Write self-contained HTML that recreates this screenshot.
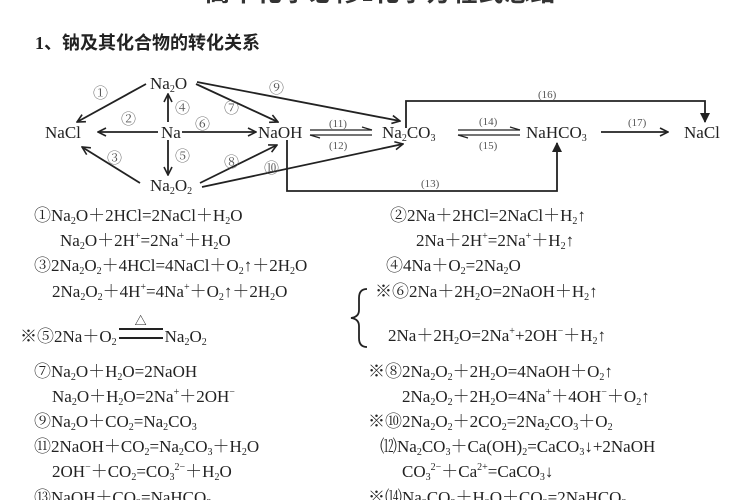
<!DOCTYPE html>
<html><head><meta charset="utf-8">
<style>
body{margin:0;background:#fff;}
#w{position:relative;width:750px;height:500px;overflow:hidden;background:#fff;font-family:"Liberation Serif","Noto Serif CJK SC",serif;color:#222;}
.t{position:absolute;font-size:17px;white-space:nowrap;line-height:1;}
sub{font-size:10px;vertical-align:-3px;line-height:0;}
sup{font-size:10px;vertical-align:7px;line-height:0;}
.h{position:absolute;font-family:"Liberation Serif","Noto Sans CJK SC",sans-serif;font-weight:bold;white-space:nowrap;}
</style></head><body><div id="w">
<div class="h" style="left:205px;top:-27px;font-size:25px;letter-spacing:1px;color:#333">高中化学必修1化学方程式总结</div>
<div class="h" style="left:35px;top:29px;font-size:18px;">1、钠及其化合物的转化关系</div>
<svg width="750" height="210" style="position:absolute;left:0;top:0" font-family="Liberation Serif, Noto Serif CJK SC, serif" font-size="17" fill="#222">
<defs>
<marker id="o" markerWidth="10" markerHeight="10" refX="9" refY="5" orient="auto" markerUnits="userSpaceOnUse"><path d="M1,1 L9,5 L1,9" fill="none" stroke="#222" stroke-width="1.6"/></marker>
<marker id="f" markerWidth="10" markerHeight="10" refX="9" refY="5" orient="auto" markerUnits="userSpaceOnUse"><path d="M0,0 L10,5 L0,10 z" fill="#222"/></marker>
</defs>
<g stroke="#222" stroke-width="1.8" fill="none">
<line x1="146" y1="84" x2="77" y2="122" marker-end="url(#o)"/>
<line x1="158" y1="132" x2="98" y2="132" marker-end="url(#o)"/>
<line x1="140" y1="183" x2="82" y2="147" marker-end="url(#o)"/>
<line x1="168" y1="122" x2="168" y2="94" marker-end="url(#o)"/>
<line x1="168" y1="140" x2="168" y2="175" marker-end="url(#o)"/>
<line x1="182" y1="132" x2="256" y2="132" marker-end="url(#o)"/>
<line x1="196" y1="84" x2="278" y2="122" marker-end="url(#o)"/>
<line x1="200" y1="183" x2="277" y2="145" marker-end="url(#o)"/>
<line x1="197" y1="82" x2="400" y2="121" marker-end="url(#o)"/>
<line x1="202" y1="187" x2="403" y2="144" marker-end="url(#o)"/>
<line x1="601" y1="132" x2="668" y2="132" marker-end="url(#o)"/>
<polyline points="406,128 406,101 705,101 705,122" marker-end="url(#f)"/>
<polyline points="287,140 287,191 557,191 557,143" marker-end="url(#f)"/>
</g>
<g stroke="#222" stroke-width="1.2">
<line x1="310" y1="130" x2="372" y2="130"/><line x1="372" y1="130" x2="362" y2="127"/>
<line x1="310" y1="135" x2="372" y2="135"/><line x1="310" y1="135" x2="320" y2="138"/>
<line x1="458" y1="130" x2="520" y2="130"/><line x1="520" y1="130" x2="510" y2="127"/>
<line x1="458" y1="135" x2="520" y2="135"/><line x1="458" y1="135" x2="468" y2="138"/>
</g>
<text x="150" y="89">Na<tspan font-size="10" dy="3">2</tspan><tspan dy="-3">O</tspan></text>
<text x="45" y="138">NaCl</text>
<text x="161" y="138">Na</text>
<text x="258" y="138">NaOH</text>
<text x="150" y="191">Na<tspan font-size="10" dy="3">2</tspan><tspan dy="-3">O</tspan><tspan font-size="10" dy="3">2</tspan></text>
<text x="382" y="138">Na<tspan font-size="10" dy="3">2</tspan><tspan dy="-3">CO</tspan><tspan font-size="10" dy="3">3</tspan></text>
<text x="526" y="138">NaHCO<tspan font-size="10" dy="3">3</tspan></text>
<text x="684" y="138">NaCl</text>
<g font-size="15" fill="#555">
<text x="93" y="98">①</text><text x="121" y="124">②</text><text x="107" y="163">③</text>
<text x="175" y="113">④</text><text x="175" y="161">⑤</text><text x="195" y="129">⑥</text>
<text x="224" y="113">⑦</text><text x="224" y="167">⑧</text><text x="269" y="93">⑨</text><text x="264" y="173">⑩</text>
<text x="329" y="127" font-size="11">(11)</text><text x="329" y="149" font-size="11">(12)</text>
<text x="479" y="125" font-size="11">(14)</text><text x="479" y="149" font-size="11">(15)</text>
<text x="538" y="98" font-size="11">(16)</text><text x="628" y="126" font-size="11">(17)</text>
<text x="421" y="187" font-size="11">(13)</text>
</g>
</svg>
<svg width="30" height="70" style="position:absolute;left:345px;top:284px">
<path d="M22,5 Q14,5 14,14 L14,26 Q14,33 6,34 Q14,35 14,42 L14,54 Q14,63 22,63" fill="none" stroke="#222" stroke-width="1.8"/>
</svg>

<div class="t" style="left:34px;top:207px">①Na<sub>2</sub>O＋2HCl=2NaCl＋H<sub>2</sub>O</div>
<div class="t" style="left:60px;top:232px">Na<sub>2</sub>O＋2H<sup>+</sup>=2Na<sup>+</sup>＋H<sub>2</sub>O</div>
<div class="t" style="left:34px;top:257px">③2Na<sub>2</sub>O<sub>2</sub>＋4HCl=4NaCl＋O<sub>2</sub>↑＋2H<sub>2</sub>O</div>
<div class="t" style="left:52px;top:283px">2Na<sub>2</sub>O<sub>2</sub>＋4H<sup>+</sup>=4Na<sup>+</sup>＋O<sub>2</sub>↑＋2H<sub>2</sub>O</div>
<div class="t" style="left:20px;top:328px">※⑤2Na＋O<sub>2</sub><span style="display:inline-block;position:relative;width:44px;height:7px;border-top:2px solid #222;border-bottom:2px solid #222;vertical-align:3px;margin:0 2px"><span style="position:absolute;left:16px;top:-15px;font-size:12px">△</span></span>Na<sub>2</sub>O<sub>2</sub></div>
<div class="t" style="left:34px;top:363px">⑦Na<sub>2</sub>O＋H<sub>2</sub>O=2NaOH</div>
<div class="t" style="left:52px;top:388px">Na<sub>2</sub>O＋H<sub>2</sub>O=2Na<sup>+</sup>＋2OH<sup>−</sup></div>
<div class="t" style="left:34px;top:413px">⑨Na<sub>2</sub>O＋CO<sub>2</sub>=Na<sub>2</sub>CO<sub>3</sub></div>
<div class="t" style="left:34px;top:438px">⑪2NaOH＋CO<sub>2</sub>=Na<sub>2</sub>CO<sub>3</sub>＋H<sub>2</sub>O</div>
<div class="t" style="left:52px;top:463px">2OH<sup>−</sup>＋CO<sub>2</sub>=CO<sub>3</sub><sup>2−</sup>＋H<sub>2</sub>O</div>
<div class="t" style="left:34px;top:489px">⑬NaOH＋CO<sub>2</sub>=NaHCO<sub>3</sub></div>

<div class="t" style="left:390px;top:207px">②2Na＋2HCl=2NaCl＋H<sub>2</sub>↑</div>
<div class="t" style="left:416px;top:232px">2Na＋2H<sup>+</sup>=2Na<sup>+</sup>＋H<sub>2</sub>↑</div>
<div class="t" style="left:386px;top:257px">④4Na＋O<sub>2</sub>=2Na<sub>2</sub>O</div>
<div class="t" style="left:375px;top:283px">※⑥2Na＋2H<sub>2</sub>O=2NaOH＋H<sub>2</sub>↑</div>
<div class="t" style="left:388px;top:327px">2Na＋2H<sub>2</sub>O=2Na<sup>+</sup>+2OH<sup>−</sup>＋H<sub>2</sub>↑</div>
<div class="t" style="left:368px;top:363px">※⑧2Na<sub>2</sub>O<sub>2</sub>＋2H<sub>2</sub>O=4NaOH＋O<sub>2</sub>↑</div>
<div class="t" style="left:402px;top:388px">2Na<sub>2</sub>O<sub>2</sub>＋2H<sub>2</sub>O=4Na<sup>+</sup>＋4OH<sup>−</sup>＋O<sub>2</sub>↑</div>
<div class="t" style="left:368px;top:413px">※⑩2Na<sub>2</sub>O<sub>2</sub>＋2CO<sub>2</sub>=2Na<sub>2</sub>CO<sub>3</sub>＋O<sub>2</sub></div>
<div class="t" style="left:380px;top:438px">⑿Na<sub>2</sub>CO<sub>3</sub>＋Ca(OH)<sub>2</sub>=CaCO<sub>3</sub>↓+2NaOH</div>
<div class="t" style="left:402px;top:463px">CO<sub>3</sub><sup>2−</sup>＋Ca<sup>2+</sup>=CaCO<sub>3</sub>↓</div>
<div class="t" style="left:368px;top:489px">※⒁Na<sub>2</sub>CO<sub>3</sub>＋H<sub>2</sub>O＋CO<sub>2</sub>=2NaHCO<sub>3</sub></div>
</div></body></html>
